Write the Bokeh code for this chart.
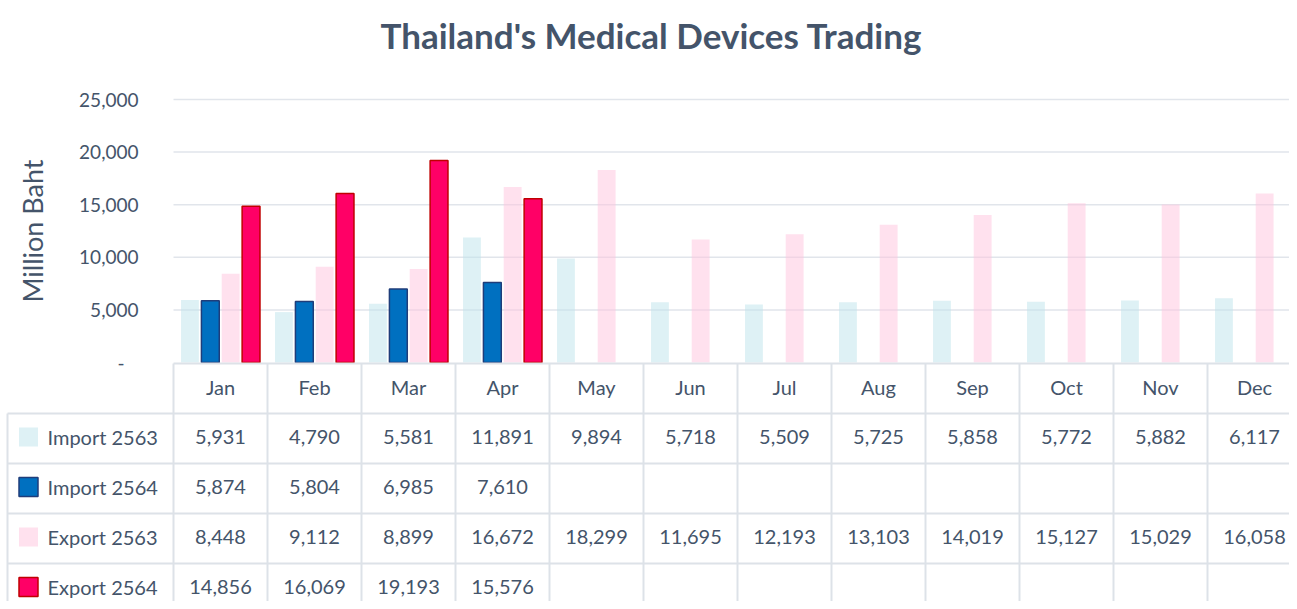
import math
from bokeh.plotting import figure
from bokeh.models import Range1d, ColumnDataSource
from bokeh.core.properties import value
from bokeh.embed import file_html
from bokeh.resources import INLINE

# ---------------- data ----------------
months = ["Jan", "Feb", "Mar", "Apr", "May", "Jun", "Jul", "Aug", "Sep", "Oct", "Nov", "Dec"]
import_2563 = [5931, 4790, 5581, 11891, 9894, 5718, 5509, 5725, 5858, 5772, 5882, 6117]
import_2564 = [5874, 5804, 6985, 7610]
export_2563 = [8448, 9112, 8899, 16672, 18299, 11695, 12193, 13103, 14019, 15127, 15029, 16058]
export_2564 = [14856, 16069, 19193, 15576]
series_names = ["Import 2563", "Import 2564", "Export 2563", "Export 2564"]
y_ticks = [0, 5000, 10000, 15000, 20000, 25000]
y_tick_labels = ["-", "5,000", "10,000", "15,000", "20,000", "25,000"]
title_text = "Thailand's Medical Devices Trading"
y_label = "Million Baht"

# ---------------- styles / geometry ----------------
FONT = "Lato"
TXT = "#44546A"
GRID = "#E1E5EB"
LC = "#DDE2E8"
styles = [
    dict(fill_color="#BDE3EB", fill_alpha=0.5, line_color=None, line_width=0),
    dict(fill_color="#0070C0", fill_alpha=1.0, line_color="#1F3D7A", line_width=1.5),
    dict(fill_color="#FFC3DD", fill_alpha=0.5, line_color=None, line_width=0),
    dict(fill_color="#FF0066", fill_alpha=1.0, line_color="#C00000", line_width=1.5),
]
series = [import_2563, import_2564, export_2563, export_2564]
offsets = [-0.325, -0.108, 0.108, 0.325]
BAR_W = 0.19

W, H = 1289, 601
CAT_PX = 94.0                 # px per month
LEFT_PX = 173                 # px from figure left to first month
UPX = 25000 / 263.0           # value units per px
ZERO_PX = 362                 # px from figure top to y=0
X_START = -LEFT_PX / CAT_PX
X_END = (W - LEFT_PX) / CAT_PX
Y_TOP = ZERO_PX * UPX
Y_BOT = -(H - ZERO_PX) * UPX
RH = 50.0                     # table row height (px)
TFS = "20px"                  # table font size


def row_y(k):
    """value-space y of a table position k rows below the axis line"""
    return -(1 + k * RH) * UPX


def px_x(px):
    """value-space x of a figure pixel column"""
    return (px - LEFT_PX) / CAT_PX


def px_y(py):
    """value-space y of a figure pixel row"""
    return (ZERO_PX - py) * UPX


p = figure(width=W, height=H, x_range=Range1d(X_START, X_END), y_range=Range1d(Y_BOT, Y_TOP),
           output_backend="svg", toolbar_location=None,
           x_axis_location=None, y_axis_location=None,
           min_border_left=0, min_border_right=0, min_border_top=0, min_border_bottom=0)
p.outline_line_color = None
p.xgrid.visible = False
p.ygrid.visible = False

# title
p.text(x=[px_x(651)], y=[px_y(34)], text=[title_text], text_font=value(FONT),
       text_font_size="35px", text_font_style="bold", text_color=TXT,
       text_align="center", text_baseline="middle")

# gridlines (above zero)
gt = y_ticks[1:]
p.segment(x0=[0] * len(gt), y0=gt, x1=[X_END] * len(gt), y1=gt, line_color=GRID, line_width=1.5)

# y tick labels
tick_x = [px_x(124) if v == 0 else px_x(138) for v in y_ticks]
p.text(x=tick_x, y=y_ticks, text=y_tick_labels, text_font=value(FONT), text_font_size="19px",
       text_color=TXT, text_align="right", text_baseline="middle")

# y axis label
p.text(x=[px_x(32)], y=[y_ticks[-1] / 2], text=[y_label], angle=math.pi / 2,
       text_font=value(FONT), text_font_size="27px", text_color=TXT,
       text_align="center", text_baseline="middle")

# bars
for vals, off, st in zip(series, offsets, styles):
    src = ColumnDataSource(dict(x=[i + 0.5 + off for i in range(len(vals))], top=vals))
    p.vbar(x="x", top="top", width=BAR_W, bottom=0, source=src, **st)

# ---------------- data table ----------------
# axis line / header top
p.segment(x0=[0], y0=[row_y(0)], x1=[X_END], y1=[row_y(0)], line_color=LC, line_width=2)
# row lines
ry = [row_y(k) for k in range(1, 5)]
p.segment(x0=[px_x(7)] * 4, y0=ry, x1=[X_END] * 4, y1=ry, line_color=LC, line_width=2)
# column lines
p.segment(x0=list(range(12)), y0=[row_y(0)] * 12, x1=list(range(12)), y1=[Y_BOT] * 12,
          line_color=LC, line_width=2)
# table left border
p.segment(x0=[px_x(7)], y0=[row_y(1)], x1=[px_x(7)], y1=[Y_BOT], line_color=LC, line_width=2)

# month header labels
p.text(x=[i + 0.5 for i in range(12)], y=[row_y(0.47)] * 12, text=months,
       text_font=value(FONT), text_font_size=TFS, text_color=TXT,
       text_align="center", text_baseline="middle")

# values
for r, vals in enumerate(series):
    p.text(x=[i + 0.5 for i in range(len(vals))], y=[row_y(r + 1.47)] * len(vals),
           text=["{:,}".format(v) for v in vals],
           text_font=value(FONT), text_font_size=TFS, text_color=TXT,
           text_align="center", text_baseline="middle")

# legend keys + series names
for r, (name, st) in enumerate(zip(series_names, styles)):
    p.scatter(x=[px_x(28)], y=[row_y(r + 1.47)], marker="square", size=19,
              fill_color=st["fill_color"], fill_alpha=st["fill_alpha"],
              line_color=st["line_color"], line_width=st["line_width"])
    p.text(x=[px_x(47)], y=[row_y(r + 1.47)], text=[name],
           text_font=value(FONT), text_font_size=TFS, text_color=TXT,
           text_align="left", text_baseline="middle")

open("out.html", "w").write(file_html(p, INLINE))
